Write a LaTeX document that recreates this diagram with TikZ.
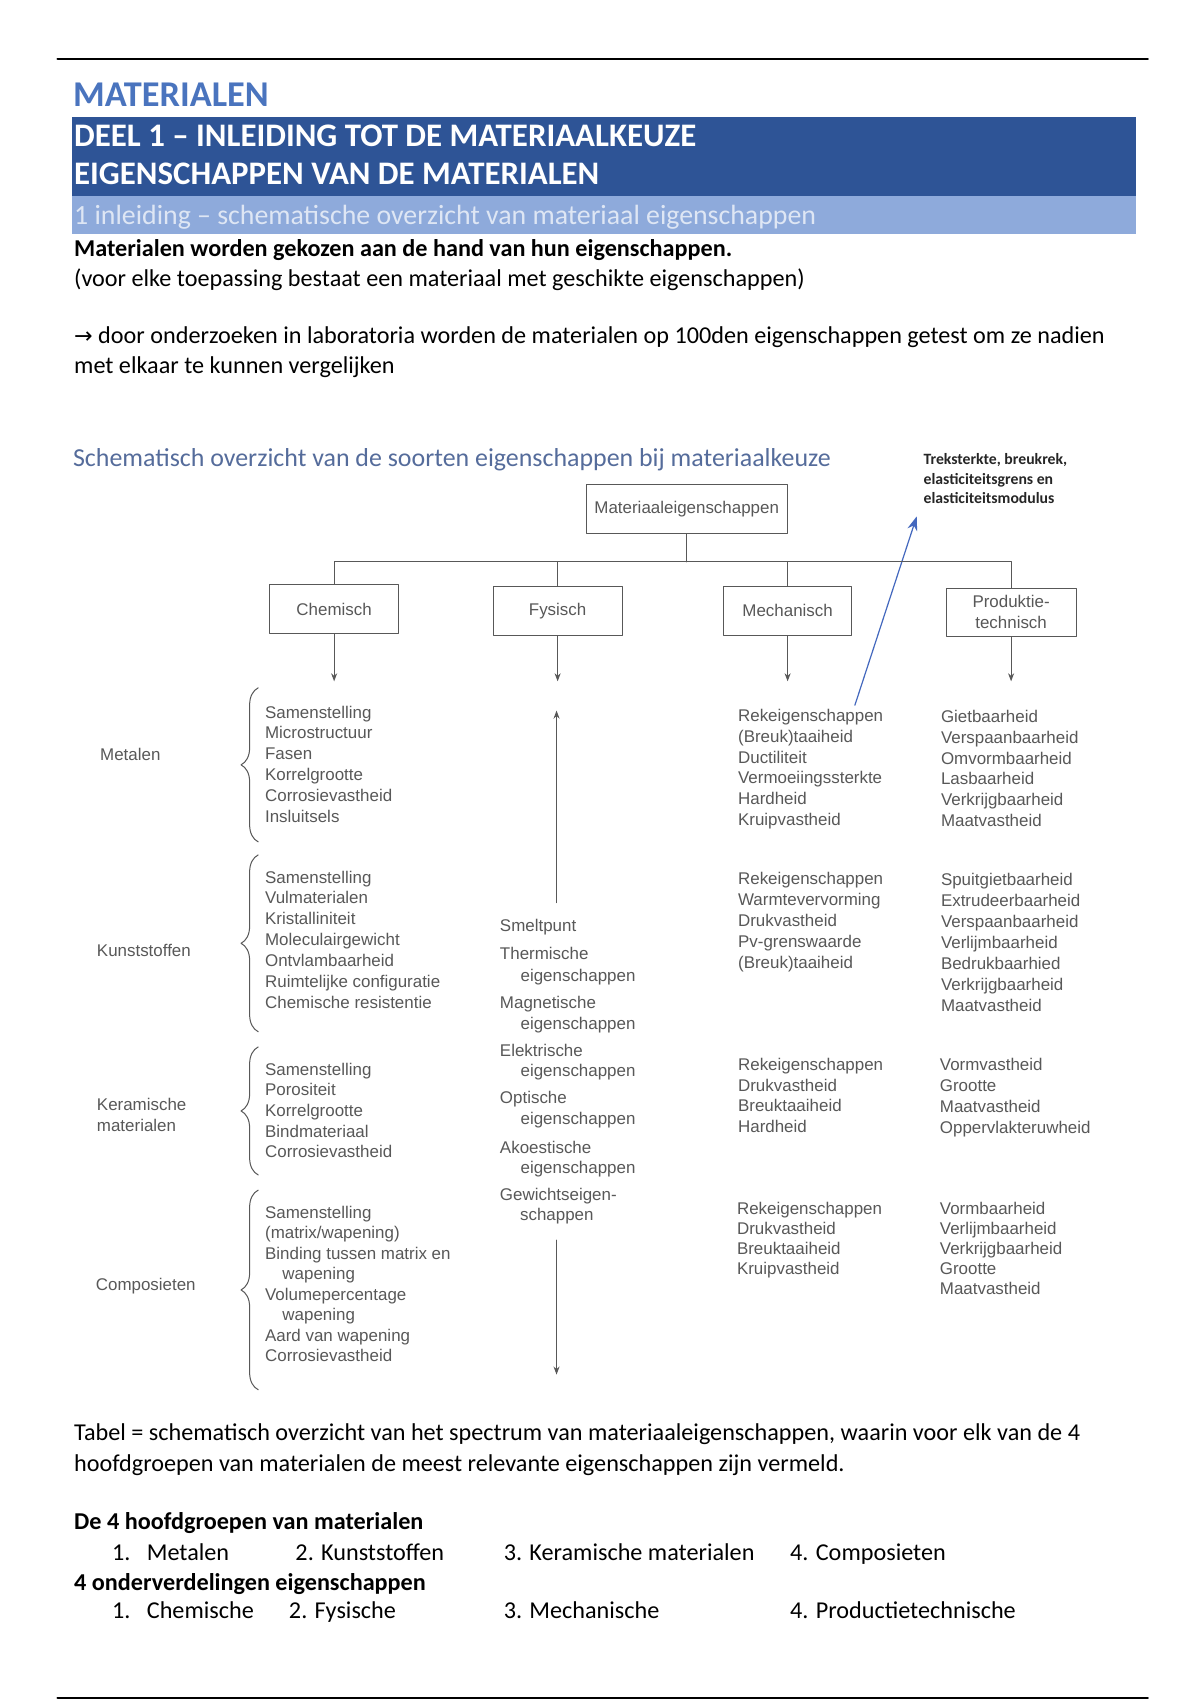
\documentclass[tikz,border=0pt]{standalone}
\usepackage{fontspec}
\setmainfont{Carlito}
\newfontfamily\scanfont{Liberation Sans}
\newfontfamily\pijlfont{DejaVu Sans}
\usetikzlibrary{arrows.meta,decorations.pathreplacing}

\definecolor{kopblauw}{RGB}{74,116,190}
\definecolor{bandblauw}{RGB}{46,84,150}
\definecolor{bandlicht}{RGB}{142,170,219}
\definecolor{bandtekst}{RGB}{222,230,244}
\definecolor{titelblauw}{RGB}{85,108,155}
\definecolor{scangrijs}{RGB}{88,88,88}
\definecolor{pijlblauw}{RGB}{68,104,190}

\tikzset{
  tekst/.style={anchor=base west, inner sep=0pt, font=\fontsize{12}{14}\selectfont},
  vet/.style={tekst, font=\bfseries\fontsize{12}{14}\selectfont},
  kader/.style={draw=scangrijs, line width=0.5pt, inner sep=1pt, text=scangrijs,
    font=\scanfont\fontsize{8.4}{10.4}\selectfont, align=center},
  item/.style={anchor=mid west, inner sep=0pt, text=scangrijs, font=\scanfont\fontsize{8.4}{10.4}\selectfont},
  lijn/.style={draw=scangrijs, line width=0.5pt},
  accolade/.style={draw=scangrijs, line width=0.5pt, decorate, decoration={brace, amplitude=8.5pt}},
}

\begin{document}
\begin{tikzpicture}[x=0.538pt, y=-0.538pt, >={Stealth[length=4pt,width=3pt]}, line join=round, line cap=round]
  \useasboundingbox (0,0) rectangle (1106,1567);
  \fill[white] (0,0) rectangle (1106,1567);

  % kop van de pagina
  \draw[line width=1pt] (53,54) -- (1058,54);
  \node[tekst, text=kopblauw, font=\bfseries\fontsize{18}{21}\selectfont] (titel) at (67,98) {MATERIALEN};
  \fill[bandblauw] (66,108) rectangle (1047,181);
  \fill[bandlicht] (66,181) rectangle (1047,216);
  \node[tekst, text=white, font=\bfseries\fontsize{16.3}{18}\selectfont] (deel) at (68,135) {DEEL 1 – INLEIDING TOT DE MATERIAALKEUZE};
  \node[tekst, text=white, font=\bfseries\fontsize{16.3}{18}\selectfont] (eigen) at (68,170.5) {EIGENSCHAPPEN VAN DE MATERIALEN};
  \node[tekst, text=bandtekst, font=\fontsize{13.8}{16}\selectfont] (inleiding) at (68,207) {1 inleiding – schematische overzicht van materiaal eigenschappen};

  \node[vet] (gekozen) at (68,236) {Materialen worden gekozen aan de hand van hun eigenschappen.};
  \node[tekst] (toepassing) at (68,264) {(voor elke toepassing bestaat een materiaal met geschikte eigenschappen)};
  \node[tekst] (labo1) at (68,317) {{\pijlfont\fontsize{11}{13}\selectfont →} door onderzoeken in laboratoria worden de materialen op 100den eigenschappen getest om ze nadien};
  \node[tekst] (labo2) at (68,344) {met elkaar te kunnen vergelijken};

  \node[tekst, text=titelblauw, font=\fontsize{12.85}{15}\selectfont] (schema) at (67,430) {Schematisch overzicht van de soorten eigenschappen bij materiaalkeuze};

  % opmerking bij de rekeigenschappen
  \foreach \t [count=\i from 0] in {{Treksterkte, breukrek,},elasticiteitsgrens en,elasticiteitsmodulus}
    \node[tekst, font=\bfseries\fontsize{7.8}{9}\selectfont, text=black!85] (trek-\i) at (851,{428.5+18*\i}) {\t};
  \coordinate (trek-voet) at (788,650);
  \coordinate (trek-punt) at (845,476);
  \draw[pijlblauw, line width=0.6pt, -{Stealth[length=7pt,width=5pt]}] (trek-voet) -- (trek-punt);

  % boom
  \node[kader, minimum width=99.5pt, minimum height=24.2pt] (mat) at (633,469.5) {Materiaaleigenschappen};
  \node[kader, minimum width=64pt, minimum height=24pt] (chem) at (308,561.5) {Chemisch};
  \node[kader, minimum width=64pt, minimum height=24.5pt] (fys) at (514,563) {Fysisch};
  \node[kader, minimum width=63.5pt, minimum height=24.5pt] (mech) at (726,563) {Mechanisch};
  \node[kader, minimum width=64.5pt, minimum height=24.2pt] (prod) at (932,564.5) {Produktie-\\technisch};

  \coordinate (rail) at (633,518);
  \coordinate (pijlrij) at (0,628);
  \draw[lijn] (mat) -- (rail);
  \draw[lijn] (chem.north) |- (rail) -| (prod.north);
  \foreach \n in {fys,mech}
    \draw[lijn] (\n.north) -- (\n.north |- rail);
  \foreach \n in {chem,fys,mech,prod}
    \draw[lijn,->] (\n.south) -- (\n.south |- pijlrij);

  % fysische pijlen
  \coordinate (fys-a) at (513,832); \coordinate (fys-b) at (513,655);
  \coordinate (fys-c) at (513,1143); \coordinate (fys-d) at (513,1267);
  \draw[lijn,->] (fys-a) -- (fys-b);
  \draw[lijn,->] (fys-c) -- (fys-d);

  % materiaalgroepen
  \node[item] (metalen) at (92,697) {Metalen};
  \node[item] (kunst) at (89,877) {Kunststoffen};
  \node[item, align=left, anchor=west] (keram) at (89,1028) {Keramische\\materialen};
  \node[item] (comp) at (88,1185) {Composieten};
  \foreach \a/\b in {634/776, 788/951, 965/1083, 1097/1281}
    \draw[accolade] (238,\b) -- (238,\a);

  % chemisch
  \foreach \t [count=\i from 0] in {Samenstelling,Microstructuur,Fasen,Korrelgrootte,Corrosievastheid,Insluitsels}
    \node[item] (ch-met-\i) at (244,{657.5+19.2*\i}) {\t};
  \foreach \t [count=\i from 0] in {Samenstelling,Vulmaterialen,Kristalliniteit,Moleculairgewicht,Ontvlambaarheid,Ruimtelijke configuratie,Chemische resistentie}
    \node[item] (ch-kun-\i) at (244,{809.5+19.25*\i}) {\t};
  \foreach \t [count=\i from 0] in {Samenstelling,Porositeit,Korrelgrootte,Bindmateriaal,Corrosievastheid}
    \node[item] (ch-ker-\i) at (244,{986.8+19*\i}) {\t};
  \foreach \t [count=\i from 0] in {Samenstelling,(matrix/wapening),Binding tussen matrix en,\hspace*{8.6pt}wapening,Volumepercentage,\hspace*{8.6pt}wapening,Aard van wapening,Corrosievastheid}
    \node[item] (ch-com-\i) at (244,{1118.3+18.9*\i}) {\t};

  % fysisch
  \foreach \t/\x/\y [count=\i] in {Smeltpunt/460.5/854, Thermische/460.5/880, eigenschappen/479.5/900,
      Magnetische/460.5/925, eigenschappen/479.5/944.7, Elektrische/460.5/969.3, eigenschappen/479.5/988,
      Optische/460.5/1013, eigenschappen/479.5/1032, Akoestische/460.5/1058.4, eigenschappen/479.5/1077,
      Gewichtseigen-/460.5/1102, schappen/479/1120.5}
    \node[item] (fy-\i) at (\x,\y) {\t};

  % mechanisch
  \foreach \t [count=\i from 0] in {Rekeigenschappen,(Breuk)taaiheid,Ductiliteit,Vermoeiingssterkte,Hardheid,Kruipvastheid}
    \node[item] (me-met-\i) at (680,{660.6+19.2*\i}) {\t};
  \foreach \t [count=\i from 0] in {Rekeigenschappen,Warmtevervorming,Drukvastheid,Pv-grenswaarde,(Breuk)taaiheid}
    \node[item] (me-kun-\i) at (680,{811+19.4*\i}) {\t};
  \foreach \t [count=\i from 0] in {Rekeigenschappen,Drukvastheid,Breuktaaiheid,Hardheid}
    \node[item] (me-ker-\i) at (680,{982.5+19*\i}) {\t};
  \foreach \t [count=\i from 0] in {Rekeigenschappen,Drukvastheid,Breuktaaiheid,Kruipvastheid}
    \node[item] (me-com-\i) at (679,{1114.7+18.5*\i}) {\t};

  % produktietechnisch
  \foreach \t [count=\i from 0] in {Gietbaarheid,Verspaanbaarheid,Omvormbaarheid,Lasbaarheid,Verkrijgbaarheid,Maatvastheid}
    \node[item] (pr-met-\i) at (867,{661.5+19.2*\i}) {\t};
  \foreach \t [count=\i from 0] in {Spuitgietbaarheid,Extrudeerbaarheid,Verspaanbaarheid,Verlijmbaarheid,Bedrukbaarhied,Verkrijgbaarheid,Maatvastheid}
    \node[item] (pr-kun-\i) at (867,{812+19.3*\i}) {\t};
  \foreach \t [count=\i from 0] in {Vormvastheid,Grootte,Maatvastheid,Oppervlakteruwheid}
    \node[item] (pr-ker-\i) at (866,{982.5+19.4*\i}) {\t};
  \foreach \t [count=\i from 0] in {Vormbaarheid,Verlijmbaarheid,Verkrijgbaarheid,Grootte,Maatvastheid}
    \node[item] (pr-com-\i) at (866,{1115.3+18.3*\i}) {\t};

  % tekst onder het schema
  \node[tekst] (tabel1) at (68,1327.5) {Tabel = schematisch overzicht van het spectrum van materiaaleigenschappen, waarin voor elk van de 4};
  \node[tekst] (tabel2) at (68,1356.5) {hoofdgroepen van materialen de meest relevante eigenschappen zijn vermeld.};
  \node[vet] (groepen) at (68,1410) {De 4 hoofdgroepen van materialen};
  \foreach \t/\x [count=\i] in {1./103, Metalen/135, 2. Kunststoffen/272, 3. Keramische materialen/464, 4. Composieten/728}
    \node[tekst] (groep-\i) at (\x,1438) {\t};
  \node[vet] (onderverd) at (68,1466) {4 onderverdelingen eigenschappen};
  \foreach \t/\x [count=\i] in {1./103, Chemische/135, 2. Fysische/266, 3. Mechanische/464, 4. Productietechnische/728}
    \node[tekst] (deel-\i) at (\x,1491.5) {\t};

  \draw[line width=1pt] (53,1565) -- (1058,1565);
\end{tikzpicture}
\end{document}
